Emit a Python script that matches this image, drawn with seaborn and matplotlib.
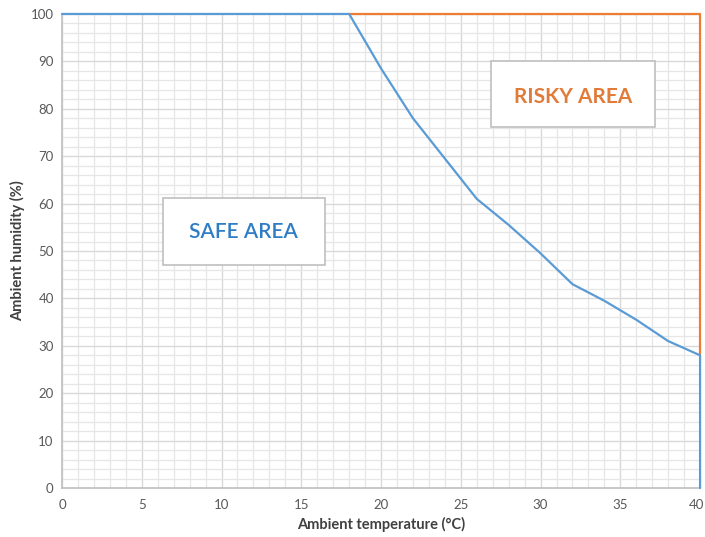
import numpy as np
import pandas as pd
import matplotlib
matplotlib.use("Agg")
import matplotlib.pyplot as plt
import seaborn as sns
from matplotlib.patches import Rectangle
from matplotlib.ticker import MultipleLocator
from matplotlib.transforms import ScaledTranslation

# --- data ---
temp_limit = [0, 18, 20, 22, 24, 26, 28, 30, 32, 34, 36, 38, 40, 40]
hum_limit = [100, 100, 88.5, 78, 69.5, 61, 55.5, 49.5, 43, 39.5, 35.5, 31, 28, 0]

risky_temp = [18, 40, 40]
risky_hum = [100, 100, 28]

x_ticks = [0, 5, 10, 15, 20, 25, 30, 35, 40]
y_ticks = [0, 10, 20, 30, 40, 50, 60, 70, 80, 90, 100]

df = pd.DataFrame({"temp": temp_limit, "hum": hum_limit})

sns.set_style("white")
plt.rcParams["font.family"] = ["Lato", "DejaVu Sans"]

fig = plt.figure(figsize=(7.05, 5.37), dpi=100)
ax = fig.add_axes([0.088, 0.0912, 0.905, 0.8828])

blue = "#5b9bd5"
orange = "#ed7d31"

# grid: minor every 1 °C / 2 %, major every 5 °C / 10 %
ax.xaxis.set_minor_locator(MultipleLocator(1))
ax.yaxis.set_minor_locator(MultipleLocator(2))
ax.grid(which="minor", color="#e6e6e6", lw=0.9)
ax.grid(which="major", color="#d9d9d9", lw=1.0)
ax.set_axisbelow(True)

sns.lineplot(data=df, x="temp", y="hum", sort=False, estimator=None,
             color=blue, lw=1.6, ax=ax, clip_on=False, zorder=4)
ax.plot(risky_temp, risky_hum, color=orange, lw=1.6, clip_on=False, zorder=3)

ax.set_xlim(0, 40)
ax.set_ylim(0, 100)
ax.set_xticks(x_ticks)
ax.set_yticks(y_ticks)
ax.tick_params(which="both", length=0, labelsize=9.5, labelcolor="#595959", pad=6)
ax.tick_params(axis="x", pad=8)

# keep the last x label inside the figure
last = ax.get_xticklabels()[-1]
last.set_transform(last.get_transform() + ScaledTranslation(-4 / 100, 0, fig.dpi_scale_trans))

for s in ["top", "right"]:
    ax.spines[s].set_visible(False)
for s in ["left", "bottom"]:
    ax.spines[s].set_color("#bfbfbf")
    ax.spines[s].set_linewidth(1.2)

ax.set_xlabel("Ambient temperature (°C)", fontsize=10.5, fontweight="bold",
              color="#404040", labelpad=4)
ax.set_ylabel("Ambient humidity (%)", fontsize=10.5, fontweight="bold",
              color="#404040", labelpad=4)

# annotation boxes
ax.add_patch(Rectangle((6.3, 47), 10.2, 14.2, facecolor="white",
                       edgecolor="#bfbfbf", lw=1.2, zorder=5))
ax.text(11.4, 54.1, "SAFE AREA", color="#2e7cc6", fontsize=15,
        fontweight="semibold", ha="center", va="center", zorder=6)

ax.add_patch(Rectangle((26.9, 76.2), 10.3, 13.9, facecolor="white",
                       edgecolor="#bfbfbf", lw=1.2, zorder=5))
ax.text(32.05, 82.4, "RISKY AREA", color="#e07b39", fontsize=15,
        fontweight="bold", ha="center", va="center", zorder=6)

fig.savefig("out.png", dpi=100)
